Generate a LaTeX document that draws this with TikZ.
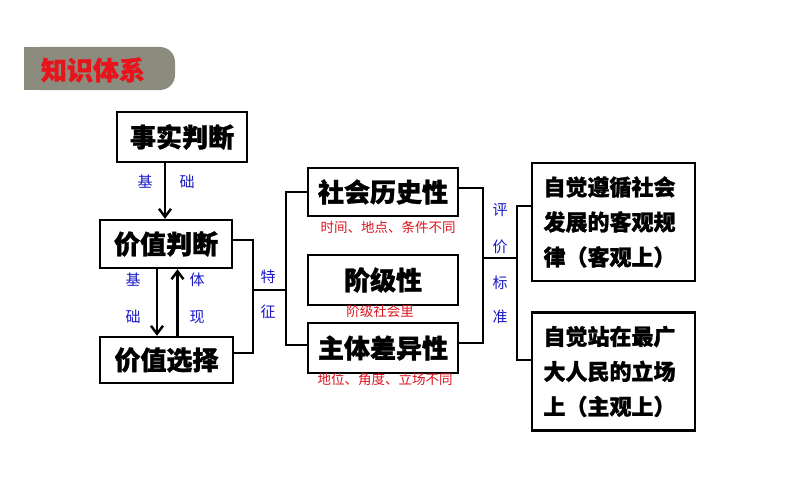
\documentclass[tikz,border=0pt]{standalone}
\usepackage{fontspec}
\newfontfamily\cjk[BoldFeatures={FakeBold=1.2}]{Noto Sans CJK SC}
\usetikzlibrary{positioning,calc,arrows.meta}

\definecolor{bannergray}{RGB}{140,140,126}
\definecolor{titlered}{RGB}{232,20,28}
\definecolor{notered}{RGB}{220,20,30}
\definecolor{tagblue}{RGB}{25,25,200}

\begin{document}
\begin{tikzpicture}[
x=1pt,
y=-1pt,
box/.style={
draw,
line width=2.4pt,
align=center,
inner sep=0pt,
font=\cjk\bfseries\fontsize{26}{30}\selectfont
},
bigbox/.style={
draw,
line width=2.4pt,
align=left,
inner sep=0pt,
text width=140pt,
minimum width=163pt,
minimum height=118pt,
font=\cjk\bfseries\fontsize{22}{35}\selectfont
},
tag/.style={
text=tagblue,
inner sep=0pt,
font=\cjk\fontsize{15}{17}\selectfont
},
note/.style={
text=notered,
inner sep=0pt,
font=\cjk\fontsize{13.5}{15}\selectfont
},
link/.style={
line width=2.4pt
},
arrow/.style={
line width=2.4pt,
-{Straight Barb[length=8pt,width=12pt,line width=2.4pt]}
}
]

\useasboundingbox[fill=white] (0,0) rectangle (794,495);


% Title banner

\fill[bannergray, rounded corners=15pt] (24,47) rectangle (175,90);
\fill[bannergray] (24,47) rectangle (110,90);

\node (title) [text=titlered, font=\cjk\bfseries\fontsize{26}{30}\selectfont] at (93,70)
{知识体系};


% Left column

\node (fact) [box, minimum width=130pt, minimum height=50pt] at (182,137)
{事实判断};

\node (judge) [box, minimum width=132pt, minimum height=48pt] at (166,244)
{价值判断};

\node (choice) [box, minimum width=133pt, minimum height=46pt] at (166.5,360)
{价值选择};


\draw[arrow] ([xshift=-17pt]fact.south) -- ([xshift=-17pt]fact.south |- judge.north);
\draw[arrow] ([xshift=-9pt]judge.south) -- ([xshift=-9pt]judge.south |- choice.north);
\draw[arrow] ([xshift=11pt]choice.north) -- ([xshift=11pt]choice.north |- judge.south);


\node (ji1) [tag] at (145,182) {基};
\node (chu1) [tag] at (187,182) {础};
\node (ji2) [tag] at (133,280) {基};
\node (chu2) [tag] at (133,317) {础};
\node (ti) [tag] at (197,280) {体};
\node (xian) [tag] at (197,317) {现};


% Features

\node (history) [box, minimum width=150pt, minimum height=48pt] at (383,192)
{社会历史性};

\node (klass) [box, minimum width=150pt, minimum height=50pt] at (383,280)
{阶级性};

\node (subject) [box, minimum width=150pt, minimum height=50pt] at (383,348)
{主体差异性};


\node (note1) [note] at (388,227) {时间、地点、条件不同};
\node (note2) [note] at (380,311) {阶级社会里};
\node (note3) [note] at (385,379) {地位、角度、立场不同};


\draw[link] ([yshift=4pt]judge.east) -- ++(20,0) |- ([yshift=7pt]choice.east);
\draw[link] (history.west) -- ++(-21,0) |- ([yshift=3pt]subject.west);

\coordinate (tzleft) at (252,290);
\coordinate (tzright) at (287,290);
\draw[link] (tzleft) -- (tzright);

\node (te) [tag] at (268,277) {特};
\node (zheng) [tag] at (268,312) {征};


% Standards

\node (objective) [bigbox] at (613.5,222)
{自觉遵循社会\\发展的客观规\\律（客观上）};

\node (people) [bigbox] at (613.5,371.5)
{自觉站在最广\\大人民的立场\\上（主观上）};


\draw[link] ([yshift=4pt]history.east) -- ++(24,0) |- ([yshift=5pt]subject.east);
\draw[link] ([yshift=16pt]objective.west) -- ++(-14,0) |- ([yshift=11.5pt]people.west);

\coordinate (pjleft) at (482,258);
\coordinate (pjright) at (518,258);
\draw[link] (pjleft) -- (pjright);

\node (ping) [tag] at (500,210) {评};
\node (jia) [tag] at (500,247) {价};
\node (biao) [tag] at (500,283) {标};
\node (zhun) [tag] at (500,317) {准};


\end{tikzpicture}
\end{document}
